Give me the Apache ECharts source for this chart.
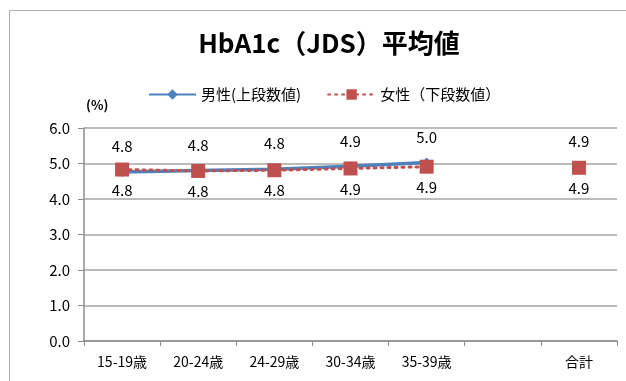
<!DOCTYPE html>
<html><head><meta charset="utf-8">
<script src="https://cdn.jsdelivr.net/npm/echarts@6/dist/echarts.min.js"></script>
<style>html,body{margin:0;padding:0;background:#fff}#c{width:626px;height:381px}</style>
</head><body><div id="c"></div>
<script>
var categories = ['15-19歳', '20-24歳', '24-29歳', '30-34歳', '35-39歳', '', '合計'];
var maleValues = [4.76, 4.80, 4.84, 4.92, 5.03, null, 4.90];
var femaleValues = [4.83, 4.79, 4.81, 4.86, 4.91, null, 4.88];
var maleLabels = ['4.8', '4.8', '4.8', '4.9', '5.0', '', '4.9'];
var femaleLabels = ['4.8', '4.8', '4.8', '4.9', '4.9', '', '4.9'];
var yTicks = [0, 1, 2, 3, 4, 5, 6];

var font = '"Noto Sans CJK JP", "Noto Sans", sans-serif';
var chart = echarts.init(document.getElementById('c'), null, {renderer: 'canvas'});
chart.setOption({
  animation: false,
  backgroundColor: '#fff',
  textStyle: {fontFamily: font},
  graphic: [{
    type: 'rect', shape: {x: 9.5, y: 10.5, width: 640, height: 400},
    style: {fill: 'none', stroke: '#b0b0b0', lineWidth: 1}, silent: true, z: -1
  }, {
    type: 'text', left: 86, top: 99,
    style: {text: '(%)', font: 'bold 13px ' + font, fill: '#000'}
  }],
  title: {
    text: 'HbA1c（JDS）平均値', left: 324, textAlign: 'center', top: 25,
    textStyle: {fontSize: 26, fontWeight: 'bold', color: '#000', fontFamily: font}
  },
  legend: {
    left: 143, top: 82, itemWidth: 47, itemHeight: 13, itemGap: 26,
    textStyle: {fontSize: 15, color: '#000', fontFamily: font},
    data: ['男性(上段数値)', '女性（下段数値）']
  },
  grid: {left: 84, right: 9, top: 128, bottom: 40, containLabel: false},
  xAxis: {
    type: 'category', data: categories, boundaryGap: true,
    axisLine: {lineStyle: {color: '#8c8c8c', width: 1.5}},
    axisTick: {show: true, length: 5, alignWithLabel: false, lineStyle: {color: '#8c8c8c'}},
    axisLabel: {fontSize: 14, color: '#000', margin: 14, interval: 0, fontFamily: font}
  },
  yAxis: {
    type: 'value', min: yTicks[0], max: yTicks[yTicks.length - 1], interval: 1,
    axisLine: {show: true, lineStyle: {color: '#8c8c8c', width: 1.5}},
    axisTick: {show: true, length: 6, lineStyle: {color: '#8c8c8c'}},
    splitLine: {lineStyle: {color: '#a6a6a6', width: 1.5}},
    axisLabel: {fontSize: 15, color: '#000', margin: 14, fontFamily: font,
      formatter: function (v) { return v.toFixed(1); }}
  },
  series: [{
    name: '男性(上段数値)', type: 'line', data: maleValues, connectNulls: false,
    symbol: 'diamond', symbolSize: 10,
    lineStyle: {color: '#4F81BD', width: 3.5},
    itemStyle: {color: '#4F81BD'},
    label: {show: true, position: 'top', distance: 13, fontSize: 15, color: '#000', fontFamily: font,
      formatter: function (p) { return maleLabels[p.dataIndex]; }},
    z: 2
  }, {
    name: '女性（下段数値）', type: 'line', data: femaleValues, connectNulls: false,
    symbol: 'rect', symbolSize: 14,
    lineStyle: {color: '#C0504D', width: 3, type: [2, 5], cap: 'round'},
    itemStyle: {color: '#C0504D'},
    label: {show: true, position: 'bottom', distance: 6, fontSize: 15, color: '#000', fontFamily: font,
      formatter: function (p) { return femaleLabels[p.dataIndex]; }},
    z: 3
  }]
});
</script></body></html>
